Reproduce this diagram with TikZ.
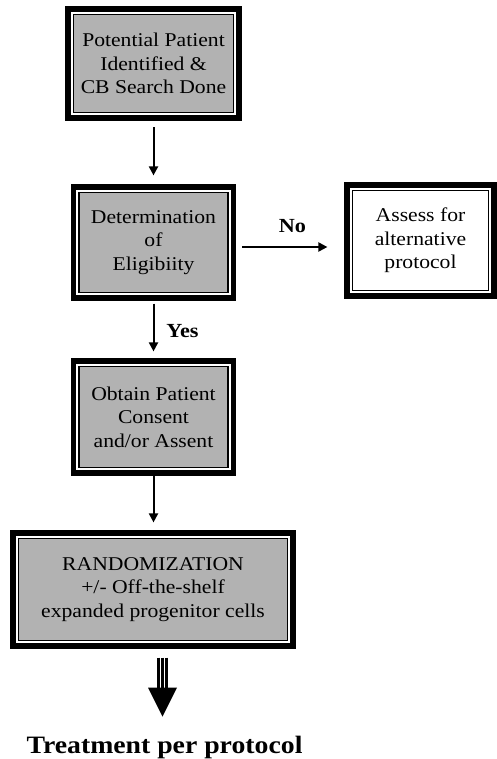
\documentclass[tikz,border=0pt]{standalone}
\usepackage{fontspec}
\setmainfont[FakeStretch=1.11]{Liberation Serif}
\usetikzlibrary{calc,arrows.meta}
\definecolor{boxgray}{RGB}{178,178,178}
\tikzset{
  stepbox/.style={draw, line width=1.2pt, fill=boxgray, inner sep=0pt, align=center,
    font=\fontsize{19.5}{23.5}\selectfont},
  whitebox/.style={stepbox, fill=white},
  outerframe/.style={line width=5.5pt},
  flow/.style={line width=2pt, -{Triangle[width=9pt,length=9pt]}},
  lbl/.style={font=\bfseries\fontsize{20}{24}\selectfont, inner sep=0pt, anchor=base},
}
\begin{document}
\begin{tikzpicture}[x=1pt,y=-1pt]
\useasboundingbox (0,0) rectangle (497,759);
\node[stepbox, minimum width=160pt, minimum height=98pt] (b1) at (153.5,63.5)
  {Potential Patient\\Identified \&\\CB Search Done};
\node[stepbox, minimum width=149pt, minimum height=100pt] (b2) at (153.5,242.5)
  {Determination\\of\\Eligibiity};
\node[whitebox, minimum width=136pt, minimum height=100pt] (b3) at (420.5,240.5)
  {Assess for\\alternative\\protocol};
\node[stepbox, minimum width=149pt, minimum height=101pt] (b4) at (153.5,417)
  {Obtain Patient\\Consent\\and/or Assent};
\node[stepbox, minimum width=269pt, minimum height=102pt] (b5) at (153,589.5)
  {RANDOMIZATION\\+/- Off-the-shelf\\expanded progenitor cells};
\foreach \n in {b1,b2,b3,b4,b5}
  \draw[outerframe] ($(\n.north west)+(-4.75,-4.75)$) rectangle ($(\n.south east)+(4.75,4.75)$);
% connectors
\draw[flow, shorten <=14pt, shorten >=16.5pt] (b1.south) -- (b2.north);
\draw[flow, shorten <=10.5pt, shorten >=14.5pt] (b2.south) -- (b4.north);
\draw[flow, shorten <=7.5pt, shorten >=15.5pt] (b4.south) -- (b4.south |- b5.north);
\draw[flow, shorten <=13.5pt, shorten >=24.5pt] ($(b2.east)+(0,4.5)$) coordinate (ns) -- (ns -| b3.west);
\node[lbl] (no) at (292.5,232) {No};
\node[lbl] (yes) at (182.5,337) {Yes};
% triple arrow
\coordinate (ta) at ($(b5.south)+(9.5,16.5)$);
\node[font=\bfseries\fontsize{25}{30}\selectfont, inner sep=0pt, anchor=base] (tr) at (164.5,753) {Treatment per protocol};
\foreach \dx in {-4,0,4}
  \draw[line width=2.3pt] ($(ta)+(\dx,0)$) -- ($(ta)+(\dx,31)$);
\fill ($(ta)+(-14.5,30)$) -- ($(ta)+(14.5,30)$) -- ($(ta)+(0,59)$) -- cycle;
\end{tikzpicture}
\end{document}
